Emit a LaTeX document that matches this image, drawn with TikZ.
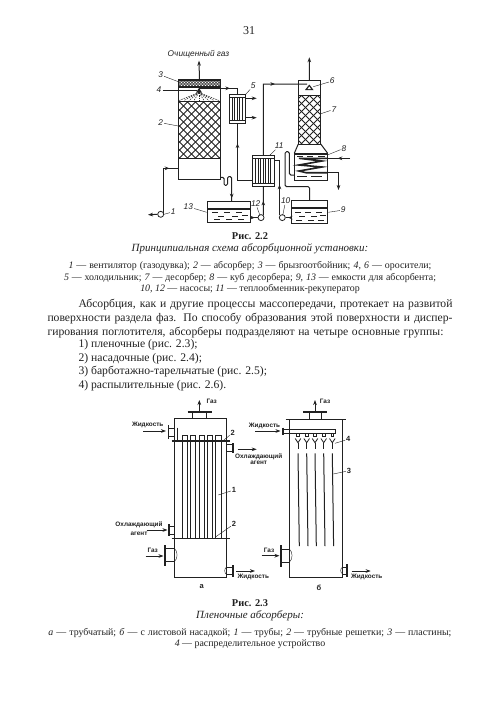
\documentclass[tikz,border=0pt]{standalone}
\usepackage{fontspec}
\setmainfont{Liberation Serif}
\setsansfont{Liberation Sans}
\usetikzlibrary{decorations.markings,calc,arrows.meta}
\definecolor{ink}{gray}{0.13}
\newcommand{\fitline}[2]{\makebox[#1pt][s]{#2}}
\tikzset{
  % walls, pipes and thin lines
  wall/.style={ink,line width=1pt},
  heavy/.style={ink,line width=1.6pt},
  pipe/.style={ink,line width=1pt},
  flow/.style={-{Stealth[length=5pt,width=3.6pt]}},
  leader/.style={ink,line width=0.4pt,shorten <=1pt},
  vessel/.style={draw=ink,line width=1pt,rectangle,inner sep=0pt,outer sep=0pt},
  pumpnode/.style={draw=ink,fill=white,line width=0.8pt,circle,inner sep=0pt,minimum size=6pt},
  % arrow somewhere along a pipe
  pipe arrow/.style={postaction={decorate,decoration={
        markings,
        mark=at position #1 with {\arrow[ink]{Stealth[length=4.5pt,width=3.6pt]}}
      }}},
  % net of crossed lines inside a node
  netfill/.style={path picture={
      \foreach \k in {-112,-104,...,112}{
        \draw[ink,line width=0.8pt] ($(path picture bounding box.center)+(\k-60,-60)$) -- ($(path picture bounding box.center)+(\k+60,60)$);
        \draw[ink,line width=0.8pt] ($(path picture bounding box.center)+(\k+60,-60)$) -- ($(path picture bounding box.center)+(\k-60,60)$);
      }}},
  finenet/.style={path picture={
      \foreach \k in {-30,-27,...,30}{
        \draw[ink,line width=0.4pt] ($(path picture bounding box.center)+(\k-6,-6)$) -- ($(path picture bounding box.center)+(\k+6,6)$);
        \draw[ink,line width=0.4pt] ($(path picture bounding box.center)+(\k+6,-6)$) -- ($(path picture bounding box.center)+(\k-6,6)$);
      }}},
  % texts
  tag/.style={font=\sffamily\itshape\fontsize{8.3}{8}\selectfont,text=ink,inner sep=0pt},
  sign/.style={font=\sffamily\bfseries\fontsize{6.4}{7}\selectfont,text=ink,inner sep=0pt,align=center},
  num/.style={font=\sffamily\bfseries\fontsize{7.5}{8}\selectfont,text=ink,inner sep=0pt},
  bodyline/.style={font=\fontsize{11.65}{13}\selectfont,text=ink,inner sep=0pt,anchor=west},
  legendline/.style={font=\fontsize{9.9}{11}\selectfont,text=ink,inner sep=0pt},
  figtitle/.style={font=\bfseries\fontsize{10.4}{12}\selectfont,text=ink,inner sep=0pt},
  figname/.style={font=\itshape\fontsize{11}{12}\selectfont,text=ink,inner sep=0pt},
}
\begin{document}
\begin{tikzpicture}[x=1pt,y=-1pt]
\useasboundingbox (0,0) rectangle (500,705);
\fill[white] (0,0) rectangle (500,705);
\node[font=\fontsize{12}{14}\selectfont,text=ink,inner sep=0pt] (pagenum) at (249,31) {31};

% ---- fig 2.2: absorber
\node[vessel,minimum width=42.4pt,minimum height=100pt] (absorber) at (199.5,129.3) {};
\node[vessel,netfill,minimum width=42.4pt,minimum height=56.6pt] (packA) at (199.5,130) {};
\node[vessel,finenet,minimum width=42.4pt,minimum height=6.4pt] (mist) at (199.5,84) {};
\draw[heavy] (mist.south west) -- (mist.south east);
\fill[ink] (199,88) -- (196,92.5) -- (202,92.5) -- cycle;
\coordinate (sprayA) at (199,88);
\foreach \dx in {-20,-15,...,20}{
  \draw[ink,line width=0.5pt,dash pattern=on 1.5pt off 1pt] (199,92.5) -- (199+\dx,100.5);
}
\node[inner sep=0pt,tag] (cleangas) at (198.5,54) {Очищенный газ};
\coordinate (ventA) at (199,60.7);
\draw[pipe,flow] (mist.north) -- (ventA);

% ---- cooler 5 and recuperator 11
\node[vessel,minimum width=16.4pt,minimum height=29pt] (cooler) at (237.5,108.8) {};
\draw[pipe] ($(cooler.north west)+(0,3)$) -- ($(cooler.north east)+(0,3)$);
\draw[pipe] ($(cooler.south west)+(0,-3)$) -- ($(cooler.south east)+(0,-3)$);
\foreach \dx in {3,5.5,8,10.5,13}{
  \draw[ink,line width=0.7pt] ($(cooler.north west)+(\dx,3)$) -- ($(cooler.south west)+(\dx,-3)$);
}
\node[vessel,minimum width=21.3pt,minimum height=31.7pt] (recup) at (263.35,170.85) {};
\draw[pipe] ($(recup.north west)+(0,3)$) -- ($(recup.north east)+(0,3)$);
\draw[pipe] ($(recup.south west)+(0,-3)$) -- ($(recup.south east)+(0,-3)$);
\foreach \dx in {3,5.5,8,10.5,13,15.5,18}{
  \draw[ink,line width=0.7pt] ($(recup.north west)+(\dx,3)$) -- ($(recup.south west)+(\dx,-3)$);
}
\coordinate (coolA) at (256.7,98.3);
\coordinate (coolB) at (256.7,117.7);
\draw[pipe,flow] (cooler.east |- coolA) -- (coolA);
\draw[pipe,flow] (cooler.east |- coolB) -- (coolB);

% ---- desorber and its boiler
\node[vessel,minimum width=22.4pt,minimum height=14.3pt] (headB) at (309.5,87.9) {};
\node[vessel,netfill,minimum width=22.4pt,minimum height=49pt] (packB) at (309.5,119.5) {};
\node[vessel,minimum width=33.4pt,minimum height=26.7pt] (boiler) at (311,166.65) {};
\draw[wall] (packB.south west) -- (boiler.north west);
\draw[wall] (packB.south east) -- (boiler.north east);
\draw[heavy] ($(boiler.north west)+(0,1.2)$) -- ($(boiler.north east)+(0,1.2)$);
\foreach \ax/\ay/\bx in {297/156.5/303,307/156.5/313,318/156.5/325,297/176.5/307,311/176.5/322}{
  \draw[ink,line width=0.5pt] (\ax,\ay) -- (\bx,\ay);
}
\coordinate (ventB) at (309.3,57.3);
\draw[pipe,flow] (headB.north) -- (ventB);
\fill[ink] (309.3,84.5) -- (305,90) -- (313.5,90) -- cycle;
\fill[white] (309.3,86.5) -- (307.5,89) -- (311,89) -- cycle;
\coordinate (sprayB) at (307,84);
\coordinate (steamin) at (350,158.3);
\coordinate (steamout) at (338.5,190);
\draw[heavy] (boiler.east |- steamin) -- (299,158.3) -- (322,161) -- (299,165) -- (322,167) -- (299,171) -- (306,172.7) -- (boiler.east |- 0,172.7);
\draw[pipe,pipe arrow=0.55] (steamin) -- (boiler.east |- steamin);
\draw[pipe,flow] (boiler.east |- 0,172.7) -- (steamout |- 0,172.7) -- (steamout);

% ---- tanks and pumps
\node[vessel,minimum width=43.4pt,minimum height=21pt] (tankA) at (229,212.2) {};
\node[vessel,minimum width=36pt,minimum height=22.6pt] (tankB) at (309.7,212) {};
\draw[heavy] ($(tankA.north west)+(0,7.3)$) -- ($(tankA.north east)+(0,7.3)$);
\draw[heavy] ($(tankB.north west)+(0,7.3)$) -- ($(tankB.north east)+(0,7.3)$);
\foreach \ax/\ay in {212/212,224/212,236/212,218/216,232/216,242/215,214/219,226/219,238/219}{
  \draw[ink,line width=0.5pt] (\ax,\ay) -- (\ax+6,\ay);
}
\foreach \ax/\ay in {295/212,305/212,316/212,299/216,311/216,320/215,296/220,308/220,318/220}{
  \draw[ink,line width=0.5pt] (\ax,\ay) -- (\ax+6,\ay);
}

% ---- pipes
\coordinate (fanout) at (148,214.8);
\coordinate (gasin) at (178.3,168.3);
\coordinate (fantop) at (163.3,213.5);
\draw[pipe,pipe arrow=0.85] (fantop) -- (fantop |- gasin) -- (gasin);
\coordinate (leanA) at (220.7,88.3);
\coordinate (leanB) at (237.5,88.3);
\draw[pipe,pipe arrow=0.7] (mist.south) |- (leanA) -- (leanB) -- (cooler.north);
\coordinate (hotin) at (252.7,180);
\draw[pipe,pipe arrow=0.72] (hotin) -- (237.5,180) -- (cooler.south);
\coordinate (richout) at (263.3,84);
\draw[pipe,pipe arrow=0.72] (recup.north) -- (richout) -- (sprayB);
\coordinate (pumpBtop) at (263.3,215);
\draw[pipe,pipe arrow=0.5] (pumpBtop) -- (recup.south);
\coordinate (pumpCtop) at (279.5,215);
\coordinate (backin) at (274,160);
\draw[pipe,pipe arrow=0.5] (pumpCtop) -- (279.5,160) -- (backin);
\coordinate (loopA) at (285,186.7);
\draw[pipe,rounded corners=1.5pt] (tankB.north) -- (309.7,186.7) -- (loopA) -- (285,151.7) -- (289.3,151.7) -- (289.3,175) -- (294.3,175);
\coordinate (drainA) at (220.7,177.3);
\draw[pipe,rounded corners=1.3pt,pipe arrow=0.93] (drainA) -- (224,177.3) -- (224,185.3) -- (227.5,185.3) -- (227.5,176.7) -- (231.7,176.7) -- (231.7,201.7);
\node[pumpnode] (fan) at (160.7,214.3) {};
\node[pumpnode] (pumpB) at (261,217.6) {};
\node[pumpnode] (pumpC) at (282.3,217.6) {};
\draw[pipe,flow] (fan.west) -- (fanout);
\draw[pipe,pipe arrow=0.6] (tankA.east |- pumpB) -- (pumpB.west);
\draw[pipe,pipe arrow=0.6] (tankB.west |- pumpC) -- (pumpC.east);

% ---- number tags with leaders
\foreach \name/\txt/\lx/\ly/\tx/\ty in {
  fan/1/173.3/211.7/164/214.3,
  abs/2/160.7/122.7/178.3/126,
  dem/3/160.7/75/178.3/81.7,
  spr/4/159/90/196.7/90,
  coo/5/253.3/86/245.7/94.3,
  six/6/332.3/81/313.3/86.7,
  des/7/334/109.3/320/114,
  boi/8/344/148.3/327.3/155,
  tan/9/343.3/210/328.3/212.3,
  pum/10/285.7/200.7/282.7/215.7,
  rec/11/279.3/146/270/155,
  pup/12/255.7/203.3/260/215.7,
  tab/13/188.3/206.7/206.7/212.3}{
  \node[tag] (lab\name) at (\lx,\ly) {\txt};
  \coordinate (tip\name) at (\tx,\ty);
  \draw[leader] (lab\name) -- (tip\name);
}

% ---- captions and running text
\node[figtitle] (capA) at (250,236) {Рис. 2.2};
\node[figname] (nameA) at (250,249) {Принципиальная схема абсорбционной установки:};
\node[legendline] (legA) at (250,265.7) {\fitline{363}{\textit{1} — вентилятор (газодувка); \textit{2} — абсорбер; \textit{3} — брызгоотбойник; \textit{4, 6} — оросители;}};
\node[legendline] (legB) at (250,277.7) {\fitline{372}{\textit{5} — холодильник; \textit{7} — десорбер; \textit{8} — куб десорбера; \textit{9, 13} — емкости для абсорбента;}};
\node[legendline] (legC) at (250,289.3) {\textit{10, 12} — насосы; \textit{11} — теплообменник-рекуператор};
\node[bodyline] (parA) at (78.3,304.3) {\fitline{374}{Абсорбция, как и другие процессы массопередачи, протекает на развитой}};
\node[bodyline] (parB) at (47.3,319) {\fitline{405}{поверхности раздела фаз. По способу образования этой поверхности и диспер-}};
\node[bodyline] (parC) at (47.3,332.3) {\fitline{396}{гирования поглотителя, абсорберы подразделяют на четыре основные группы:}};
\node[bodyline] (itemA) at (78.3,345) {1) пленочные (рис. 2.3);};
\node[bodyline] (itemB) at (78.3,358.7) {2) насадочные (рис. 2.4);};
\node[bodyline] (itemC) at (78.3,372) {3) барботажно-тарельчатые (рис. 2.5);};
\node[bodyline] (itemD) at (78.3,385.7) {4) распылительные (рис. 2.6).};

% ---- fig 2.3 a: tube absorber
\node[vessel,minimum width=52.4pt,minimum height=159.4pt,line width=1.1pt] (shellA) at (200.5,498) {};
\coordinate (sheetAl) at (171.7,441);
\coordinate (sheetAr) at (230,441);
\coordinate (sheetBl) at (171.7,538.3);
\coordinate (sheetBr) at (230,538.3);
\draw[heavy] (sheetAl) -- (sheetAr);
\draw[heavy] (sheetBl) -- (sheetBr);
\foreach \ax/\bx in {182.3/187.3,190.7/195.7,199/204,207.3/212.3,215.7/221}{
  \draw[wall] (\ax,538.3) -- (\ax,435) -- (\bx,435) -- (\bx,538.3);
}
\draw[wall] (177.3,427.5) -- (177.3,441);
% top nozzle
\draw[wall,fill=white] (192.7,418.3) -- (192.7,411.7) -- (206.7,411.7) -- (206.7,418.3);
\draw[heavy] (187.7,411.7) -- (211.7,411.7);
\node[sign] (gasoutA) at (211.7,401) {Газ};
\coordinate (topA) at (199.3,400);
\draw[pipe,flow,line width=0.7pt] (199.3,411) -- (topA);
% liquid inlet
\draw[heavy] (168.3,425) -- (168.3,439.3);
\draw[wall] (168.3,428) -- (174.3,428);
\draw[wall] (168.3,436) -- (174.3,436);
\node[sign] (liqinA) at (147.7,425) {Жидкость};
\coordinate (liqarrA) at (143.3,431);
\draw[pipe,flow,line width=0.7pt] (liqarrA) -- (166,431);
% coolant
\draw[heavy] (232.7,443.3) -- (232.7,452.7);
\draw[wall] (226.7,444.5) -- (232.7,444.5);
\draw[wall] (226.7,451.5) -- (232.7,451.5);
\node[sign] (coolout) at (258.7,459) {Охлаждающий\\[-0.6pt]агент};
\coordinate (coolarr) at (256.7,449.3);
\draw[pipe,flow,line width=0.7pt] (237.7,449.3) -- (coolarr);
\draw[heavy] (169,524.3) -- (169,536);
\draw[wall] (169,526) -- (174.3,526);
\draw[wall] (169,534) -- (174.3,534);
\node[sign] (coolin) at (139,528.8) {Охлаждающий\\[1.5pt]агент};
\coordinate (coolarrB) at (146.7,530);
\draw[pipe,flow,line width=0.7pt] (coolarrB) -- (167.5,530);
% gas inlet, liquid outlet
\draw[heavy] (165,545) -- (165,566);
\draw[wall] (165,548.3) -- (174.3,548.3);
\draw[wall] (165,561.7) -- (174.3,561.7);
\draw[ink,line width=0.4pt] (174.3,548.3) .. controls (178,551) and (178,559) .. (174.3,561.7);
\node[sign] (gasinA) at (152.7,550.7) {Газ};
\coordinate (gasarrA) at (145.7,556);
\draw[pipe,flow,line width=0.7pt] (gasarrA) -- (163.5,556);
\draw[heavy] (232.7,565) -- (232.7,576.7);
\draw[wall] (226.7,567) -- (232.7,567);
\draw[wall] (226.7,574.5) -- (232.7,574.5);
\draw[ink,line width=0.4pt] (226.7,567) .. controls (224,568.5) and (224,573) .. (226.7,574.5);
\coordinate (liqarrB) at (255,571);
\draw[pipe,flow,line width=0.7pt] (236,571) -- (liqarrB);
\node[sign] (liqoutA) at (253.3,577) {Жидкость};
\node[num] (marka) at (201.7,586.7) {а};

% ---- fig 2.3 b: plate absorber
\node[vessel,minimum width=53.4pt,minimum height=157.6pt,line width=1.1pt] (shellB) at (316,498.5) {};
\draw[heavy] (285.7,419.5) -- (346,419.5);
\draw[wall,fill=white] (309,419.3) -- (309,411.7) -- (321,411.7) -- (321,419.3);
\draw[heavy] (303.3,411.7) -- (326.7,411.7);
\node[sign] (gasoutB) at (325,401) {Газ};
\coordinate (topB) at (315,400);
\draw[pipe,flow,line width=0.7pt] (315,411) -- (topB);
\draw[wall] (282.7,429.3) rectangle (335.7,433.3);
\draw[heavy] (282.7,427.7) -- (282.7,435);
\node[sign] (liqinB) at (264.5,425.7) {Жидкость};
\coordinate (liqarrC) at (255,431);
\draw[pipe,flow,line width=0.7pt] (liqarrC) -- (280.5,431);
\foreach \px in {298,306.7,315,323.7,332.3}{
  \draw[ink,line width=0.6pt] (\px-1.3,433.3) rectangle (\px+1.3,435.8);
  \draw[wall,line width=0.8pt] (\px-2.8,438.5) -- (\px,442.7) -- (\px+2.8,438.5);
  \draw[wall,line width=0.8pt] (\px,442.7) -- (\px,449.3);
  \draw[wall] (\px,453.3) -- (\px+1.3,546);
}
\draw[heavy] (281,545) -- (281,566.7);
\draw[wall] (281,549) -- (289.3,549);
\draw[wall] (281,562.3) -- (289.3,562.3);
\draw[ink,line width=0.4pt] (289.3,549) .. controls (293,552) and (293,559) .. (289.3,562.3);
\node[sign] (gasinB) at (269,550) {Газ};
\coordinate (gasarrB) at (261.7,555.7);
\draw[pipe,flow,line width=0.7pt] (gasarrB) -- (279.5,555.7);
\draw[heavy] (346.7,564) -- (346.7,576.7);
\draw[wall] (342.7,567) -- (346.7,567);
\draw[wall] (342.7,574) -- (346.7,574);
\draw[ink,line width=0.4pt] (342.7,567) .. controls (340,568.5) and (340,572.5) .. (342.7,574);
\coordinate (liqarrD) at (370.7,571);
\draw[pipe,flow,line width=0.7pt] (351.7,571) -- (liqarrD);
\node[sign] (liqoutB) at (366.7,577.3) {Жидкость};
\node[num] (markb) at (319,587.3) {б};

% ---- leaders of fig 2.3
\foreach \name/\txt/\lx/\ly/\tx/\ty in {
  sa/2/232.7/432.7/224/440,
  tu/1/234/490/218.3/495,
  sb/2/234/524/215/537.3,
  di/4/348.3/439.3/335/443.3,
  pl/3/349/470.7/333.3/474}{
  \node[num] (num\name) at (\lx,\ly) {\txt};
  \coordinate (end\name) at (\tx,\ty);
  \draw[leader] (num\name) -- (end\name);
}

\node[figtitle] (capB) at (250,602.7) {Рис. 2.3};
\node[figname] (nameB) at (250,615.7) {Пленочные абсорберы:};
\node[legendline] (legD) at (250,633.3) {\fitline{403}{\textit{а} — трубчатый; \textit{б} — с листовой насадкой; \textit{1} — трубы; \textit{2} — трубные решетки; \textit{3} — пластины;}};
\node[legendline] (legE) at (250,644.3) {\textit{4} — распределительное устройство};
\end{tikzpicture}
\end{document}
